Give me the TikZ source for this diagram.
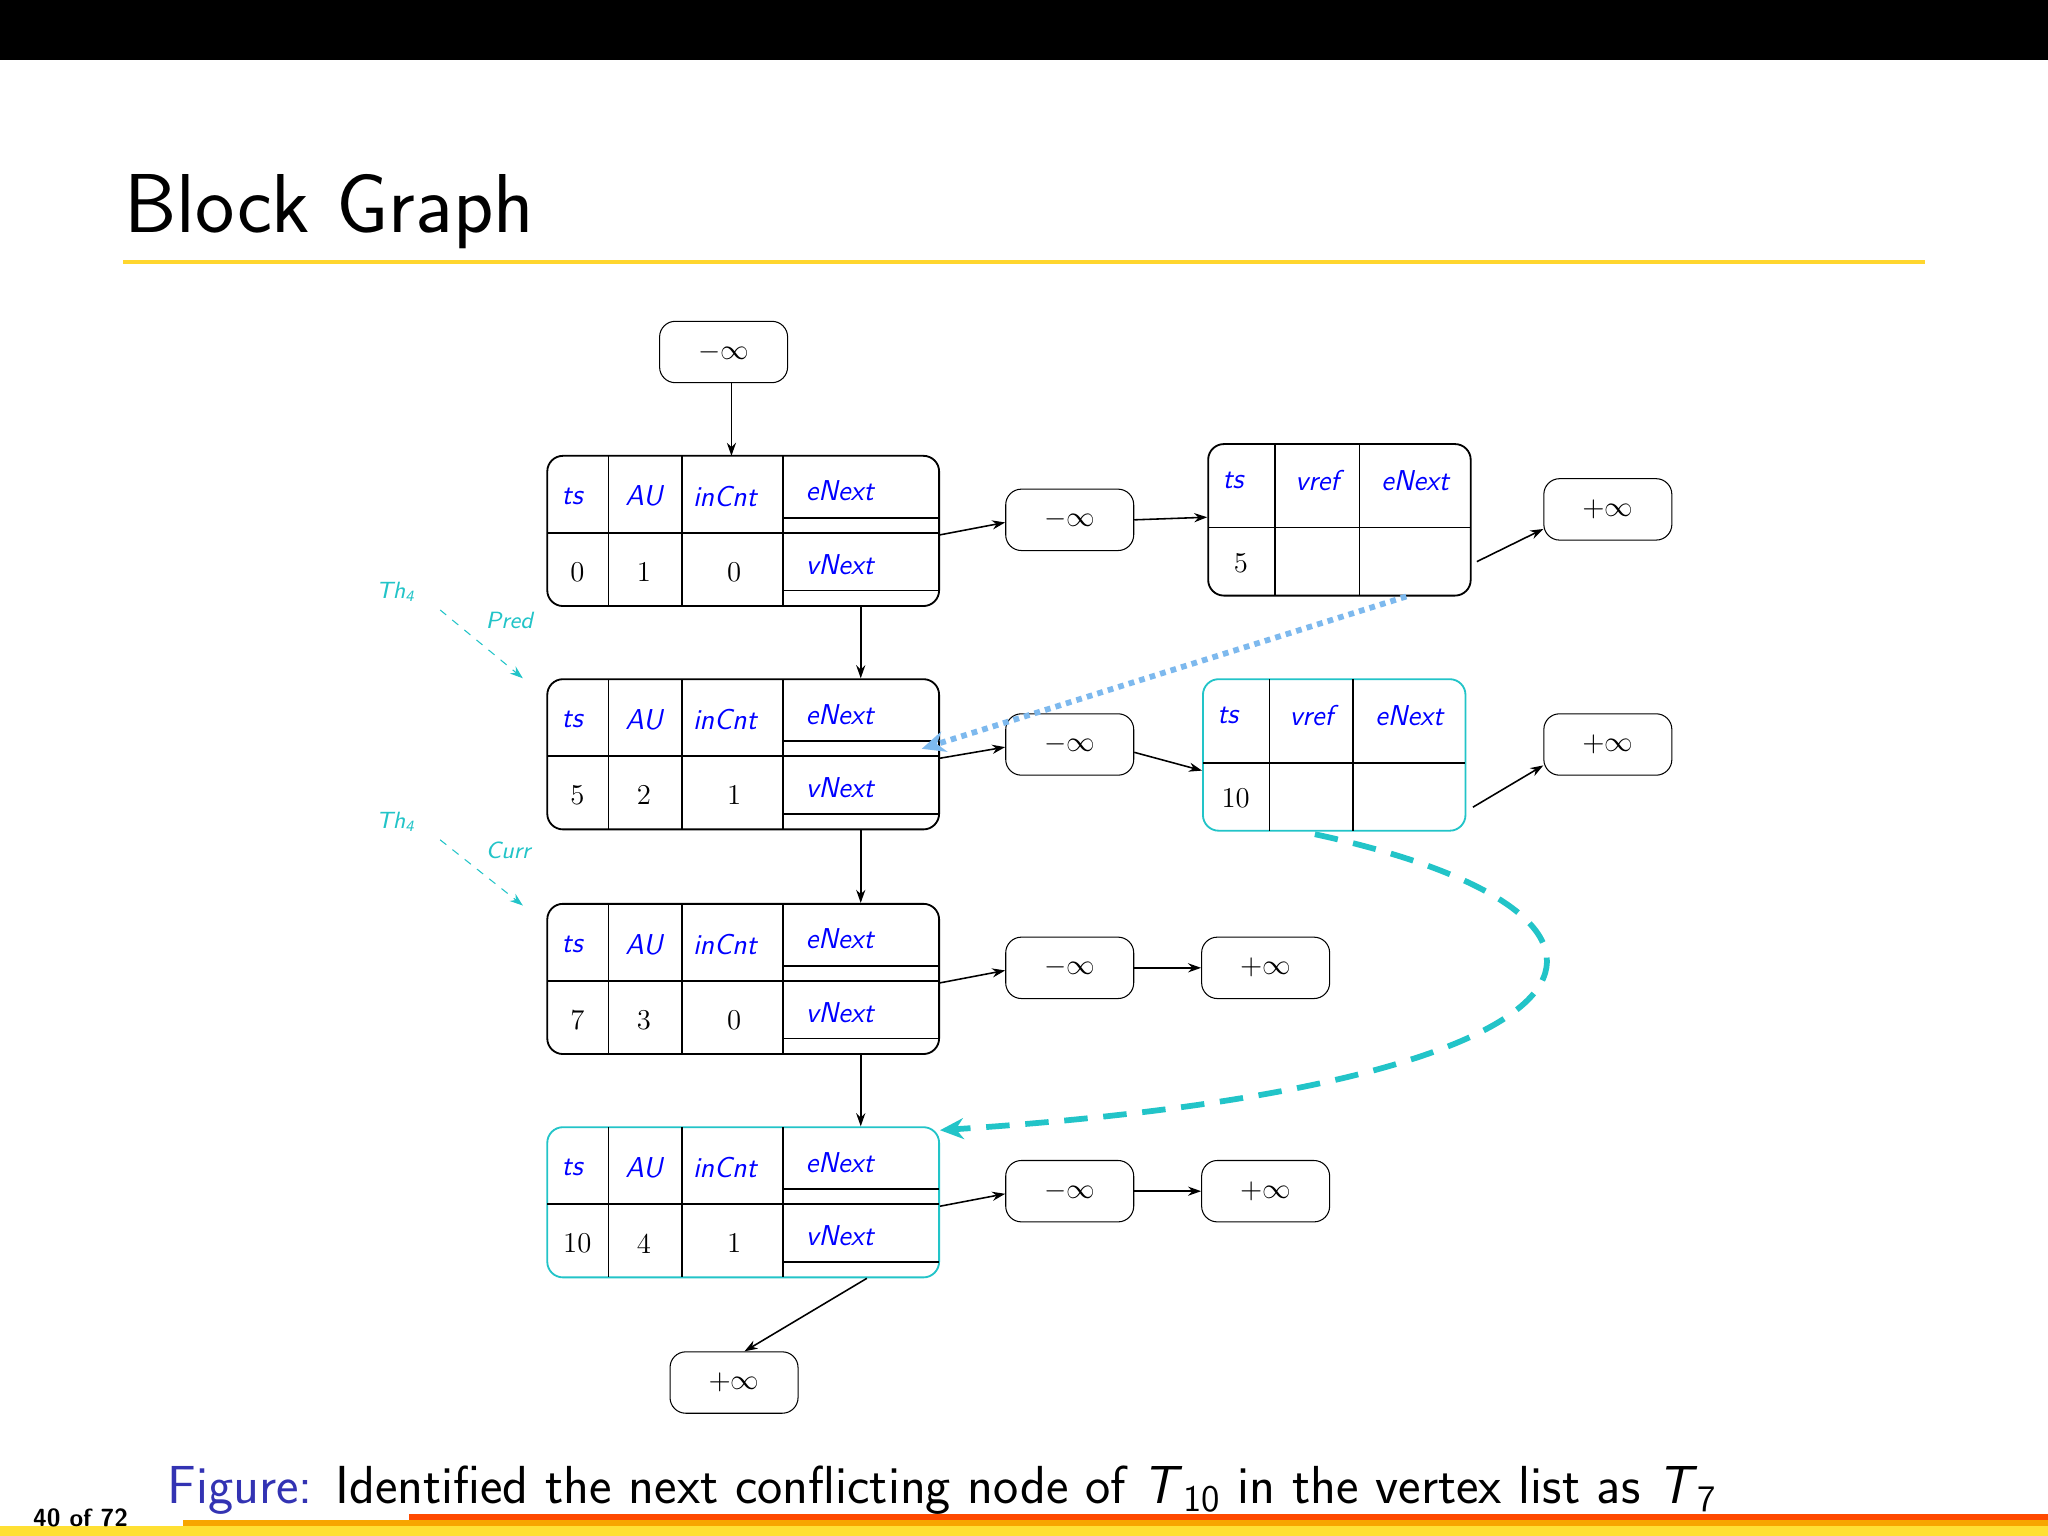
\documentclass[tikz,border=0pt]{standalone}
\usetikzlibrary{arrows.meta}
\definecolor{cy}{HTML}{22C4C8}
\definecolor{lb}{HTML}{7DB9EE}
\definecolor{fig}{HTML}{3333B3}
\definecolor{bred}{HTML}{FF4A00}
\definecolor{borg}{HTML}{F7A600}
\definecolor{byel}{HTML}{FFE033}
\tikzset{
  inf/.style={draw,rounded corners=6pt,minimum width=49pt,minimum height=23.5pt,inner sep=0pt,font=\fontsize{11}{12}\selectfont},
  arr/.style={-{Stealth[length=5pt,width=3.5pt]},line width=0.6pt},
  lbl/.style={text=blue,font=\sffamily\itshape\fontsize{11}{12}\selectfont,inner sep=0pt},
  val/.style={font=\fontsize{11}{12}\selectfont,inner sep=0pt},
  tline/.style={line width=0.6pt},
}
\newcommand\myblk[6]{%
  \node[draw=#3,line width=0.7pt,rounded corners=6pt,minimum width=150pt,minimum height=57.5pt,inner sep=0pt] (#1) at (569,#2+57.5) {};
  \draw[tline] (466,#2) -- (466,#2+115) (522,#2) -- (522,#2+115) (599.5,#2) -- (599.5,#2+115)
    (419,#2+59) -- (599.5,#2+59) (599.5,#2+47.5) -- (719,#2+47.5) (599.5,#2+59) -- (719,#2+59) (599.5,#2+103) -- (719,#2+103);
  \node[lbl] at (438,#2+31) {ts};
  \node[lbl] at (493,#2+31) {AU};
  \node[lbl] at (555,#2+31) {inCnt};
  \node[lbl] at (643,#2+27) {eNext};
  \node[lbl] at (643,#2+83) {vNext};
  \node[val] at (442,#2+89) {#4};
  \node[val] at (493,#2+89) {#5};
  \node[val] at (562,#2+89) {#6};
}
\newcommand\myedge[8]{% name, x0, ytop, color, c1, c2, xright, value
  \node[draw=#4,line width=0.7pt,rounded corners=6pt,minimum width={(#7-#2)*0.5pt},minimum height=58pt,inner sep=0pt] (#1) at ({(#2+#7)/2},#3+58) {};
  \draw[tline] (#5,#3) -- (#5,#3+116) (#6,#3) -- (#6,#3+116) (#2,#3+64) -- (#7,#3+64);
  \node[lbl] at (#2+19,#3+28) {ts};
  \node[lbl] at ({(#5+#6)/2},#3+28) {vref};
  \node[lbl] at ({(#6+#7)/2+0},#3+28) {eNext};
  \node[val] at (#2+25,#3+91) {#8};
}
\begin{document}
\begin{tikzpicture}[x=0.5pt,y=-0.5pt]
\useasboundingbox (0,0) rectangle (1568,1176);
\fill[white] (0,0) rectangle (1568,1176);
\fill[black] (0,0) rectangle (1568,46);
\node[anchor=base west,inner sep=0pt,font=\sffamily\fontsize{32}{36}\selectfont] (title) at (95,178) {Block Graph};
\fill[byel!90!orange] (94,199) rectangle (1474,202);
% bottom bars
\fill[byel] (0,1168.5) rectangle (1568,1176);
\fill[borg] (140,1164) rectangle (1568,1168.5);
\fill[bred] (313,1159) rectangle (1568,1164);
\node[anchor=base west,inner sep=0pt,font=\sffamily\bfseries\fontsize{9.5}{10}\selectfont] (pg) at (25,1169) {40 of 72};
\node[anchor=base west,inner sep=0pt,font=\sffamily\fontsize{20.5}{24}\selectfont] (cap) at (128,1151) {\textcolor{fig}{Figure:} Identified the next conflicting node of \textit{T}\textsubscript{10} in the vertex list as \textit{T}\textsubscript{7}};

% nodes
\node[inf] (nt) at (554,269.5) {$-\infty$};
\myblk{b1}{349}{black}{0}{1}{0}
\myblk{b2}{520}{black}{5}{2}{1}
\myblk{b3}{692}{black}{7}{3}{0}
\myblk{b4}{863}{cy}{10}{4}{1}
\node[inf] (m1) at (819,398) {$-\infty$};
\node[inf] (m2) at (819,570) {$-\infty$};
\node[inf] (m3) at (819,741) {$-\infty$};
\node[inf] (m4) at (819,912) {$-\infty$};
\myedge{e1}{925}{340}{black}{976}{1041}{1126}{5}
\myedge{e2}{921}{520}{cy}{972}{1036}{1122}{10}
\node[inf] (p1) at (1231,390) {$+\infty$};
\node[inf] (p2) at (1231,570) {$+\infty$};
\node[inf] (p3) at (969,741) {$+\infty$};
\node[inf] (p4) at (969,912) {$+\infty$};
\node[inf] (pb) at (562,1058.5) {$+\infty$};

% arrows
\draw[arr] (560,293) -- (560,349);
\foreach \a/\b in {b1/b2,b2/b3,b3/b4}{
  \draw[arr] (\a.south -| 659,0) -- (\b.north -| 659,0);
}
\draw[arr] ([yshift=-1.5pt]b1.east) -- ([yshift=-1pt]m1.west);
\draw[arr] ([yshift=-1.5pt]b2.east) -- ([yshift=-1pt]m2.west);
\draw[arr] ([yshift=-1.5pt]b3.east) -- ([yshift=-1pt]m3.west);
\draw[arr] ([yshift=-1.5pt]b4.east) -- ([yshift=-1pt]m4.west);
\draw[arr] (m1.east) -- ([yshift=1pt]e1.west);
\draw[arr] ([yshift=-3pt]m2.east) -- ([yshift=-6pt]e2.west);
\draw[arr] (m3.east) -- (p3.west);
\draw[arr] (m4.east) -- (p4.west);
\draw[arr] ([xshift=2pt,yshift=-16pt]e1.east) -- ([yshift=-7.5pt]p1.west);
\draw[arr] ([xshift=2.5pt,yshift=-20pt]e2.east) -- ([yshift=-8pt]p2.west);
\draw[arr] ([xshift=-28pt]b4.south east) -- ([xshift=4pt]pb.north);

% highlighted connectors
\draw[lb,line width=2.2pt,dotted,-{Stealth[length=9pt,width=8pt]}] ([xshift=-25pt]e1.south east) -- ([xshift=-7pt,yshift=-27pt]b2.north east);
\draw[cy,line width=2.2pt,dash pattern=on 9pt off 6pt,-{Stealth[length=9pt,width=8pt]}] ([xshift=-58pt,yshift=-1pt]e2.south east) .. controls (1290,700) and (1260,830) .. ([yshift=-1.5pt]b4.north east);

% thread labels
\node[text=cy,font=\sffamily\itshape\fontsize{9}{10}\selectfont,inner sep=0pt] (th1) at (303,453) {Th\textsubscript{4}};
\node[text=cy,font=\sffamily\itshape\fontsize{9}{10}\selectfont,inner sep=0pt] (pr) at (390,475) {Pred};
\coordinate (t1s) at (337,467);
\draw[cy,dashed,-{Stealth[length=5pt,width=3.5pt]}] (t1s) -- ([xshift=-9pt,yshift=0pt]b2.north west);
\node[text=cy,font=\sffamily\itshape\fontsize{9}{10}\selectfont,inner sep=0pt] (th2) at (303,629) {Th\textsubscript{4}};
\node[text=cy,font=\sffamily\itshape\fontsize{9}{10}\selectfont,inner sep=0pt] (cu) at (389,651) {Curr};
\coordinate (t2s) at (337,643);
\draw[cy,dashed,-{Stealth[length=5pt,width=3.5pt]}] (t2s) -- ([xshift=-9pt,yshift=-1pt]b3.north west);
\end{tikzpicture}
\end{document}
